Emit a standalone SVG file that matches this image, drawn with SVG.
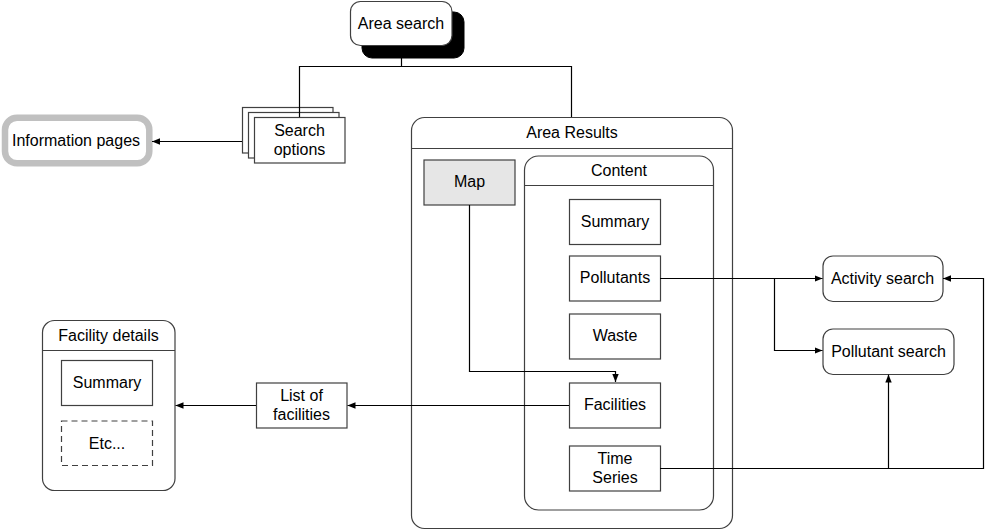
<svg xmlns="http://www.w3.org/2000/svg" width="985" height="530" viewBox="0 0 985 530">
<defs>
<marker id="arr" markerUnits="userSpaceOnUse" markerWidth="8" markerHeight="8" viewBox="0 0 8 8" refX="8" refY="4" orient="auto">
<path d="M0,0.8 L8,4 L0,7.2 Z" fill="#000"/>
</marker>
<style>
text{font-family:"Liberation Sans",Arial,sans-serif;font-size:16px;fill:#000;text-anchor:middle}
.box{fill:#fff;stroke:#404040;stroke-width:1.2}
.con{fill:none;stroke:#000;stroke-width:1.2}
.arr{marker-end:url(#arr)}
</style>
</defs>
<rect width="985" height="530" fill="#fff"/>
<g id="area-search">
<rect x="362" y="12" width="102" height="46" rx="10" fill="#000" stroke="#000"/>
<rect class="box" x="350.5" y="1.5" width="101.5" height="44" rx="10"/>
<text x="401" y="28.5">Area search</text>
</g>
<g id="search-options">
<rect class="box" x="242.5" y="107.5" width="90.5" height="45.5"/>
<rect class="box" x="248.5" y="112.5" width="90.5" height="45.5"/>
<rect class="box" x="254.5" y="117.5" width="90.5" height="45.5"/>
<text x="299.5" y="135.5">Search</text>
<text x="299.5" y="154.5">options</text>
</g>
<g id="information-pages">
<rect x="5" y="117.7" width="144.3" height="45.6" rx="12" fill="#fff" stroke="#c0c0c0" stroke-width="6.5"/>
<text x="76" y="146">Information pages</text>
</g>
<g id="area-results">
<rect class="box" x="411.5" y="117.5" width="321" height="411" rx="13"/>
<line x1="411.5" y1="148.5" x2="732.5" y2="148.5" stroke="#404040" stroke-width="1.2"/>
<text x="572" y="137.5">Area Results</text>
</g>
<g id="map">
<rect x="424" y="160" width="91" height="45" fill="#e6e6e6" stroke="#404040" stroke-width="1.2"/>
<text x="469.5" y="187">Map</text>
</g>
<g id="content">
<rect class="box" x="524.5" y="156" width="189" height="354" rx="14"/>
<line x1="524.5" y1="185.5" x2="713.5" y2="185.5" stroke="#404040" stroke-width="1.2"/>
<text x="619" y="175.5">Content</text>
</g>
<g id="summary">
<rect class="box" x="569.5" y="199.5" width="91" height="45"/>
<text x="615" y="226.5">Summary</text>
</g>
<g id="pollutants">
<rect class="box" x="569.5" y="256" width="91" height="45"/>
<text x="615" y="283">Pollutants</text>
</g>
<g id="waste">
<rect class="box" x="569.5" y="314" width="91" height="45"/>
<text x="615" y="341">Waste</text>
</g>
<g id="facilities">
<rect class="box" x="569.5" y="383" width="91" height="45"/>
<text x="615" y="410">Facilities</text>
</g>
<g id="time-series">
<rect class="box" x="569.5" y="446" width="91" height="45"/>
<text x="615" y="463.5">Time</text>
<text x="615" y="482.5">Series</text>
</g>
<g id="activity-search">
<rect class="box" x="823" y="256" width="120" height="45.5" rx="10"/>
<text x="882.5" y="283.5">Activity search</text>
</g>
<g id="pollutant-search">
<rect class="box" x="823" y="329" width="131" height="45.5" rx="10"/>
<text x="888.5" y="356.5">Pollutant search</text>
</g>
<g id="list-of-facilities">
<rect class="box" x="256.5" y="383" width="90.5" height="45"/>
<text x="301.5" y="400.5">List of</text>
<text x="301.5" y="420">facilities</text>
</g>
<g id="facility-details">
<rect class="box" x="42.5" y="320.5" width="132.5" height="170" rx="12"/>
<line x1="42.5" y1="350.5" x2="175" y2="350.5" stroke="#404040" stroke-width="1.2"/>
<text x="108.5" y="340.5">Facility details</text>
</g>
<g id="fd-summary">
<rect class="box" x="61.5" y="360.5" width="91" height="45"/>
<text x="107" y="387.5">Summary</text>
</g>
<g id="fd-etc">
<rect class="box" x="61.5" y="421" width="91" height="44.5" stroke-dasharray="6,4"/>
<text x="107" y="449">Etc...</text>
</g>
<g id="connectors">
<path class="con" d="M401.5,58 V66.5 M299.5,117 V66.5 H571.5 V117"/>
<path class="con arr" d="M242,141.5 H152"/>
<path class="con arr" d="M469.5,205 V371.5 H615.5 V382"/>
<path class="con arr" d="M569,405.5 H347.5"/>
<path class="con arr" d="M256,405.5 H175.5"/>
<path class="con arr" d="M660,278.5 H822.5"/>
<path class="con arr" d="M774.5,278.5 V350.5 H822.5"/>
<path class="con arr" d="M660,468.5 H983.5 V278.5 H943"/>
<path class="con arr" d="M888.5,468.5 V374.5"/>
</g>
</svg>
